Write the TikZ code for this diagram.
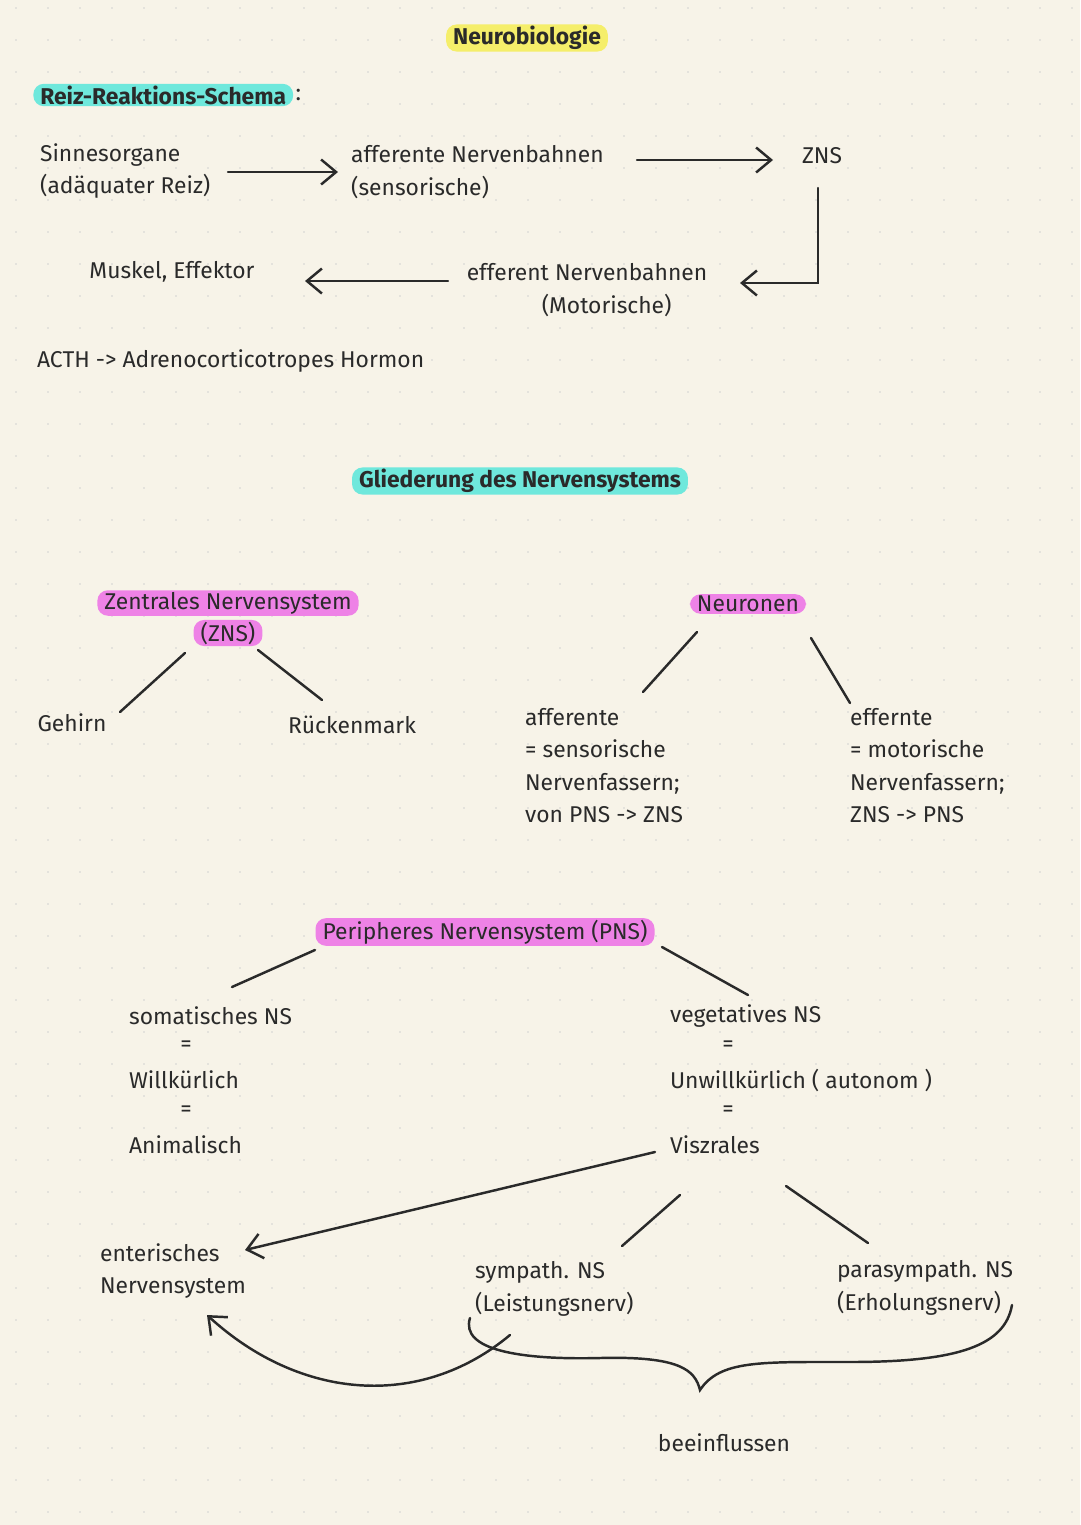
\documentclass[tikz,border=0pt]{standalone}
\usepackage{fontspec}
\setmainfont{Fira Sans}
\usetikzlibrary{arrows.meta}
\definecolor{paper}{HTML}{F7F3E8}
\definecolor{hlyellow}{HTML}{F5EE6A}
\definecolor{hlcyan}{HTML}{6FE8DC}
\definecolor{hlpink}{HTML}{EE82E6}
\definecolor{ink}{HTML}{2A2A2A}
\tikzset{
  txt/.style={font=\fontsize{13}{18.5}\selectfont, text=ink, align=left, inner sep=1pt},
  mark yellow/.style={txt, fill=hlyellow, rounded corners=6pt, inner xsep=4pt},
  mark cyan/.style={txt, fill=hlcyan, rounded corners=6pt, inner xsep=4pt},
  mark pink/.style={txt, fill=hlpink, rounded corners=6pt, inner xsep=4pt, align=center},
  pen/.style={draw=ink, line width=1.4pt, line cap=round},
  arr/.style={pen, -{Straight Barb[length=3mm,width=5mm]}}
}
\begin{document}
\begin{tikzpicture}[x=0.02cm,y=-0.02cm]
    \fill[paper] (0,0) rectangle (1080,1525);
    \useasboundingbox (0,0) rectangle (1080,1525);
    % dotted paper
    \foreach \i in {0,...,33} {
        \foreach \j in {0,...,47} {
            \fill[black!18] (\i*32+16,\j*32+8) circle (0.9);
        }
    }

    % Reiz-Reaktions-Schema
    \node[mark yellow] (title) at (527,38) {\bfseries Neurobiologie};
    \node[mark cyan, anchor=west] (schema) at (33,95) {\bfseries Reiz-Reaktions-Schema};
    \node[txt, anchor=west] (colon) at (schema.east) {:};
    \node[txt, anchor=west] (sinn) at (38,171) {Sinnesorgane\\(adäquater Reiz)};
    \node[txt, anchor=west] (aff) at (349,172) {afferente Nervenbahnen\\(sensorische)};
    \node[txt] (zns) at (822,156) {ZNS};
    \node[txt] (eff) at (587,290) {efferent Nervenbahnen\\\hspace*{1.5cm}(Motorische)};
    \node[txt] (musk) at (172,272) {Muskel, Effektor};
    \node[txt, anchor=west] (acth) at (35,361) {ACTH -> Adrenocorticotropes Hormon};
    \draw[arr] (228,172) -- (338,172);
    \draw[arr] (637,160) -- (773,160);
    \draw[arr] (818,188) -- (818,283) -- (740,283);
    \draw[arr] (448,281) -- (305,281);

    % Gliederung
    \node[mark cyan] (glied) at (520,481) {\bfseries Gliederung des Nervensystems};
    \node[mark pink] (zentral) at (228,603) {Zentrales Nervensystem};
    \node[mark pink] (zentral2) at (228,633) {(ZNS)};
    \node[txt] (gehirn) at (72,723) {Gehirn};
    \node[txt] (rueck) at (352,725) {Rückenmark};
    \draw[pen] (185,653) -- (120,712);
    \draw[pen] (258,650) -- (322,700);

    \node[mark pink] (neur) at (748,604) {Neuronen};
    \node[txt, anchor=north west] (affn) at (523,706) {afferente\\= sensorische\\Nervenfassern;\\von PNS -> ZNS};
    \node[txt, anchor=north west] (effn) at (848,706) {effernte\\= motorische\\Nervenfassern;\\ZNS -> PNS};
    \draw[pen] (697,632) -- (643,692);
    \draw[pen] (811,638) -- (850,703);

    % PNS
    \node[mark pink] (pns) at (485,932) {Peripheres Nervensystem (PNS)};
    \draw[pen] (315,950) -- (232,987);
    \draw[pen] (662,947) -- (748,995);
    \node[txt, anchor=west] (som) at (127,1016) {somatisches NS};
    \node[txt] (eq1) at (186,1046) {=};
    \node[txt, anchor=west] (will) at (127,1080) {Willkürlich};
    \node[txt] (eq2) at (186,1111) {=};
    \node[txt, anchor=west] (anim) at (127,1145) {Animalisch};
    \node[txt, anchor=west] (veg) at (668,1016) {vegetatives NS};
    \node[txt] (eq3) at (728,1046) {=};
    \node[txt, anchor=west] (unw) at (668,1080) {Unwillkürlich ( autonom )};
    \node[txt] (eq4) at (728,1111) {=};
    \node[txt, anchor=west] (visz) at (668,1145) {Viszrales};

    \node[txt, anchor=west] (ent) at (98,1271) {enterisches\\Nervensystem};
    \node[txt, anchor=west] (sym) at (473,1289) {sympath. NS\\(Leistungsnerv)};
    \node[txt, anchor=west] (para) at (835,1288) {parasympath. NS\\(Erholungsnerv)};
    \draw[arr] (655,1152) -- (245,1250);
    \draw[pen] (680,1195) -- (622,1246);
    \draw[pen] (786,1186) -- (868,1243);

    % beeinflussen
    \draw[arr] (510,1335) .. controls (420,1410) and (300,1400) .. (207,1315);
    \draw[pen] (470,1318) .. controls (460,1350) and (520,1360) .. (600,1358)
        .. controls (680,1356) and (695,1370) .. (700,1390)
        .. controls (720,1360) and (760,1362) .. (850,1362)
        .. controls (960,1362) and (1005,1345) .. (1012,1305);
    \node[txt] (beein) at (724,1443) {beeinflussen};
\end{tikzpicture}
\end{document}
